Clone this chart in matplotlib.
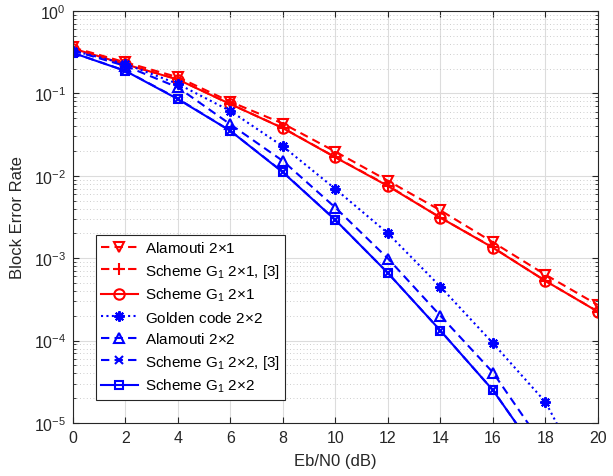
import matplotlib
matplotlib.use("Agg")
import matplotlib.pyplot as plt
import numpy as np
from matplotlib.ticker import LogLocator, NullFormatter, FixedLocator

plt.rcParams['font.family'] = ['Liberation Sans', 'DejaVu Sans']
plt.rcParams['mathtext.fontset'] = 'custom'
plt.rcParams['mathtext.rm'] = 'Liberation Sans'
plt.rcParams['mathtext.it'] = 'Liberation Sans'

ebn0 = [0, 2, 4, 6, 8, 10, 12, 14, 16, 18, 20]

alamouti_21 = [0.36, 0.238, 0.157, 0.079, 0.043, 0.0196, 0.0087, 0.0038, 0.00156, 0.00063, 0.00027]
g1_21_ref3 = [0.35, 0.226, 0.148, 0.074, 0.038, 0.0168, 0.0076, 0.0031, 0.00135, 0.00053, 0.000225]
g1_21 = [0.35, 0.225, 0.147, 0.074, 0.0378, 0.0167, 0.0075, 0.0031, 0.00134, 0.00053, 0.000224]
golden_22 = [0.33, 0.227, 0.13, 0.061, 0.0227, 0.0069, 0.0020, 0.00045, 0.000093, 0.000018, 0.0000011]
alamouti_22 = [0.33, 0.215, 0.118, 0.042, 0.0151, 0.0041, 0.00099, 0.0002, 0.000041, 0.0000049, 0.0000006]
g1_22_ref3 = [0.31, 0.188, 0.086, 0.035, 0.0111, 0.0029, 0.00066, 0.000132, 0.000025, 0.0000031, 0.0000004]
g1_22 = [0.31, 0.187, 0.085, 0.035, 0.011, 0.0029, 0.00066, 0.000132, 0.000025, 0.0000031, 0.0000004]

labels = [
    'Alamouti 2$\\times$1',
    'Scheme G$_1$ 2$\\times$1, [3]',
    'Scheme G$_1$ 2$\\times$1',
    'Golden code 2$\\times$2',
    'Alamouti 2$\\times$2',
    'Scheme G$_1$ 2$\\times$2, [3]',
    'Scheme G$_1$ 2$\\times$2',
]

fig = plt.figure(figsize=(6.13, 4.77), dpi=100)
ax = fig.add_axes([0.119, 0.111, 0.8565, 0.864])

lw = 1.5
ms = 7.5
red = '#ff0000'
blue = '#0000ff'
ax.semilogy(ebn0, alamouti_21, color=red, ls=(0, (4, 2.5)), lw=lw, marker='v', ms=ms, mfc='none', mew=1.5, label=labels[0])
ax.semilogy(ebn0, g1_21_ref3, color=red, ls=(0, (4, 2.5)), lw=lw, marker='+', ms=ms+1, mew=1.5, label=labels[1])
ax.semilogy(ebn0, g1_21, color=red, ls='-', lw=lw, marker='o', ms=ms, mfc='none', mew=1.5, label=labels[2])
ax.semilogy(ebn0, golden_22, color=blue, ls=(0, (1, 1.6)), lw=lw, marker=(8, 2, 0), ms=ms, mew=1.5, label=labels[3])
ax.semilogy(ebn0, alamouti_22, color=blue, ls=(0, (4, 2.5)), lw=lw, marker='^', ms=ms, mfc='none', mew=1.5, label=labels[4])
ax.semilogy(ebn0, g1_22_ref3, color=blue, ls=(0, (4, 2.5)), lw=lw, marker='x', ms=ms-1.5, mew=1.5, label=labels[5])
ax.semilogy(ebn0, g1_22, color=blue, ls='-', lw=lw, marker='s', ms=ms-1.5, mfc='none', mew=1.5, label=labels[6])

ax.set_xlim(0, 20)
ax.set_ylim(1e-5, 1)
ax.xaxis.set_major_locator(FixedLocator(ebn0))
ax.yaxis.set_major_locator(LogLocator(base=10, numticks=10))
ax.yaxis.set_minor_locator(LogLocator(base=10, subs=np.arange(2, 10), numticks=20))
ax.yaxis.set_minor_formatter(NullFormatter())

ax.grid(True, which='major', color='#dcdcdc', ls='-', lw=0.8)
ax.grid(True, which='minor', axis='y', color='#bdbdbd', ls=(0, (1, 3)), lw=0.6)
ax.set_axisbelow(True)

ax.tick_params(which='both', direction='in', top=True, right=True, labelsize=11.5, colors='#262626')
ax.tick_params(which='major', length=4, width=0.8, pad=5)
ax.tick_params(which='minor', length=2.5, width=0.6)
for sp in ax.spines.values():
    sp.set_color('#262626')
    sp.set_linewidth(0.8)

ax.set_xlabel('Eb/N0 (dB)', fontsize=12, color='#262626', labelpad=6)
ax.set_ylabel('Block Error Rate', fontsize=12, color='#262626', labelpad=6)

leg = ax.legend(loc='lower left', bbox_to_anchor=(0.029, 0.038), fontsize=11, frameon=True,
                fancybox=False, edgecolor='#262626', framealpha=1, handlelength=2.4,
                labelspacing=0.42, borderpad=0.35, handletextpad=0.45)
leg.get_frame().set_linewidth(0.8)

fig.savefig('out.png', dpi=100)
